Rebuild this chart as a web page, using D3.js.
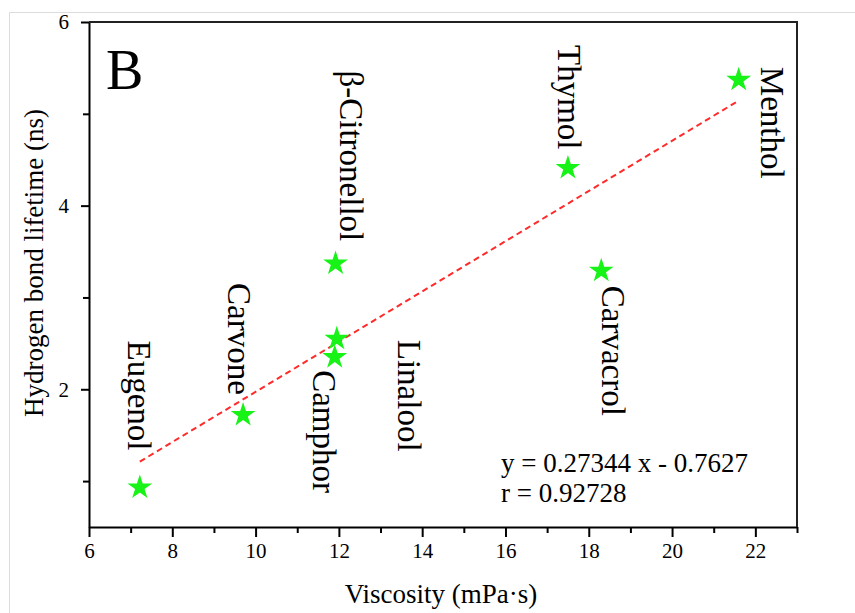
<!DOCTYPE html>
<html>
<head>
<meta charset="utf-8">
<script src="https://cdn.jsdelivr.net/npm/d3@7"></script>
<style>
  body { margin: 0; background: #fff; }
  svg { display: block; font-family: "Liberation Serif", "Times New Roman", serif; }
</style>
</head>
<body>
<div id="vis-holder"></div>
<script>
// Data
const names = ["Eugenol", "Carvone", "Camphor", "Linalool", "β-Citronellol", "Carvacrol", "Thymol", "Menthol"];
const viscosity = [7.22, 9.7, 11.9, 11.95, 11.92, 18.3, 17.5, 21.6];
const lifetime = [0.93, 1.72, 2.35, 2.55, 3.37, 3.29, 4.41, 5.37];

// label offsets (px) from each star to the top of its rotated label
const labelDx = [-1, -4, -11, 72, 15, 12, 1, 33];
const labelDy = [-147, -132, 13, 1, -193, 15, -123, -13];

// linear fit given in the figure
const slope = 0.27344;
const intercept = -0.7627;
const fitText = ["y = 0.27344 x - 0.7627", "r = 0.92728"];

const xTicks = [6, 8, 10, 12, 14, 16, 18, 20, 22];
const xMinor = [7, 9, 11, 13, 15, 17, 19, 21, 23];
const yTicks = [2, 4, 6];
const yMinor = [1, 3, 5];

const width = 855;
const height = 613;
const margin = { top: 22, right: 58, bottom: 86, left: 89 };

const data = names.map((n, i) => ({ name: n, x: viscosity[i], y: lifetime[i], dx: labelDx[i], dy: labelDy[i] }));

const svg = d3.select("#vis-holder")
  .append("svg")
  .attr("width", width)
  .attr("height", height);

// faint screenshot border
svg.append("path")
  .attr("d", "M9.5,613 V12.5 H855")
  .attr("fill", "none")
  .attr("stroke", "#dcdcdc")
  .attr("stroke-width", 1);

const x = d3.scaleLinear()
  .domain([6, 23])
  .range([margin.left, width - margin.right]);

const y = d3.scaleLinear()
  .domain([0.5, 6])
  .range([height - margin.bottom, margin.top]);

// minor ticks
svg.append("g")
  .attr("transform", `translate(0,${height - margin.bottom})`)
  .call(d3.axisBottom(x).tickValues(xMinor).tickSize(6).tickFormat(""))
  .call(g => g.select(".domain").remove())
  .selectAll("line").attr("stroke", "#000").attr("stroke-width", 2);

svg.append("g")
  .attr("transform", `translate(${margin.left},0)`)
  .call(d3.axisLeft(y).tickValues(yMinor).tickSize(6).tickFormat(""))
  .call(g => g.select(".domain").remove())
  .selectAll("line").attr("stroke", "#000").attr("stroke-width", 2);

// x axis
svg.append("g")
  .attr("transform", `translate(0,${height - margin.bottom})`)
  .call(d3.axisBottom(x).tickValues(xTicks).tickSize(10).tickSizeOuter(0).tickPadding(6).tickFormat(d3.format("d")))
  .attr("font-family", "Liberation Serif")
  .attr("font-size", 21)
  .call(g => g.select(".domain").attr("stroke-width", 2))
  .call(g => g.selectAll(".tick line").attr("stroke-width", 2));

// y axis
svg.append("g")
  .attr("transform", `translate(${margin.left},0)`)
  .call(d3.axisLeft(y).tickValues(yTicks).tickSize(8).tickSizeOuter(0).tickPadding(12).tickFormat(d3.format("d")))
  .attr("font-family", "Liberation Serif")
  .attr("font-size", 21)
  .call(g => g.select(".domain").attr("stroke-width", 2))
  .call(g => g.selectAll(".tick line").attr("stroke-width", 2));

// top and right frame
svg.append("path")
  .attr("d", `M${x(6)},${y(6)} H${x(23)} V${y(0.5)}`)
  .attr("fill", "none")
  .attr("stroke", "#222")
  .attr("stroke-width", 2);

// axis titles
svg.append("text")
  .attr("x", 441)
  .attr("y", 603)
  .attr("text-anchor", "middle")
  .attr("font-size", "27px")
  .text("Viscosity (mPa·s)");

svg.append("text")
  .attr("transform", "translate(43,263) rotate(-90)")
  .attr("text-anchor", "middle")
  .attr("font-size", "27px")
  .text("Hydrogen bond lifetime (ns)");

// panel letter
svg.append("text")
  .attr("x", 106)
  .attr("y", 89)
  .attr("font-size", "56px")
  .text("B");

// fit line over the data range
const xExt = d3.extent(viscosity);
svg.append("line")
  .attr("x1", x(xExt[0]))
  .attr("y1", y(slope * xExt[0] + intercept))
  .attr("x2", x(xExt[1]))
  .attr("y2", y(slope * xExt[1] + intercept))
  .attr("stroke", "#ff2a2a")
  .attr("stroke-width", 2)
  .attr("stroke-dasharray", "6,4");

// stars
svg.selectAll("path.star")
  .data(data)
  .enter()
  .append("path")
  .attr("class", "star")
  .attr("d", d3.symbol().type(d3.symbolStar).size(190))
  .attr("transform", d => `translate(${x(d.x)},${y(d.y)})`)
  .attr("fill", "#17f217");

// rotated labels
svg.selectAll("text.lbl")
  .data(data)
  .enter()
  .append("text")
  .attr("class", "lbl")
  .attr("transform", d => `translate(${x(d.x) + d.dx},${y(d.y) + d.dy}) rotate(90)`)
  .attr("dominant-baseline", "central")
  .attr("font-size", "33px")
  .text(d => d.name);

// equation
svg.selectAll("text.fit")
  .data(fitText)
  .enter()
  .append("text")
  .attr("class", "fit")
  .attr("x", 501)
  .attr("y", (d, i) => 472 + i * 30)
  .attr("font-size", "27px")
  .text(d => d);
</script>
</body>
</html>
